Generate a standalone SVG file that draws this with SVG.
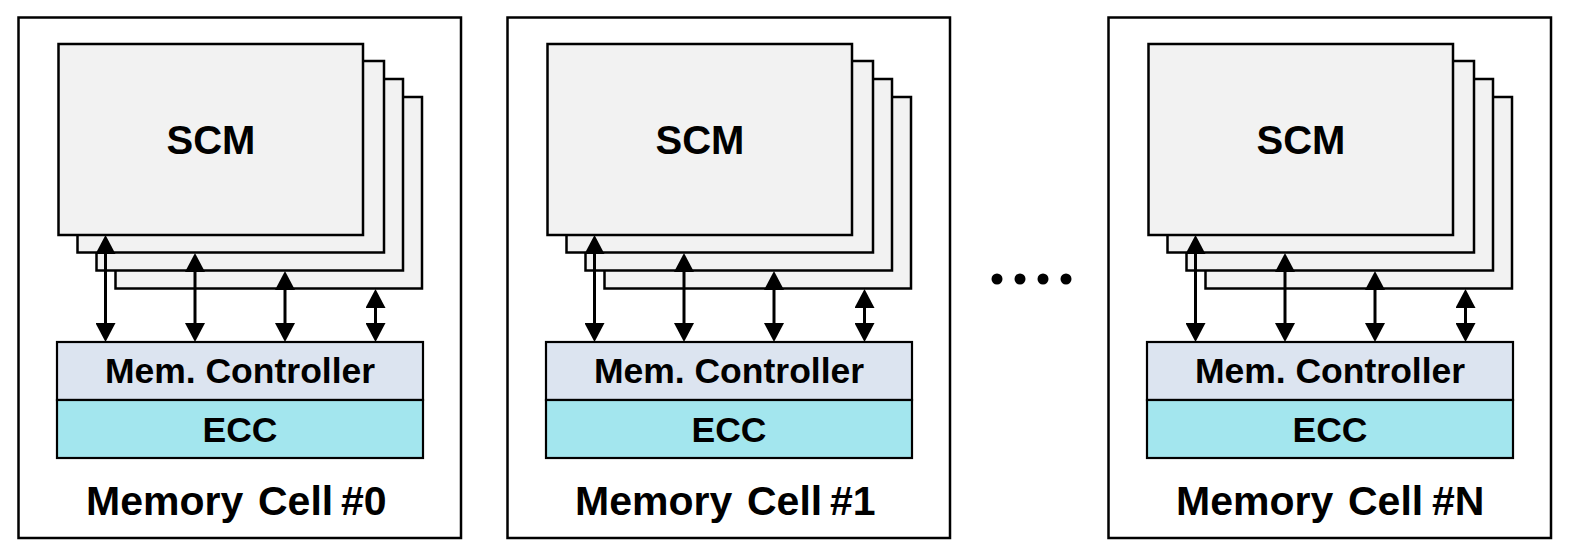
<svg xmlns="http://www.w3.org/2000/svg" width="1572" height="559" viewBox="0 0 1572 559">
  <style>
    .frame { fill: #ffffff; stroke: #000000; stroke-width: 2.5; }
    .scm { fill: #f2f2f2; stroke: #000000; stroke-width: 2.5; }
    .ctrl { fill: #dce4f0; stroke: #000000; stroke-width: 2.2; }
    .ecc { fill: #a3e6ee; stroke: #000000; stroke-width: 2.2; }
    .lbl { font-family: "Liberation Sans", Arial, sans-serif; font-weight: bold; fill: #000000; }
    .link { stroke: #000000; stroke-width: 3; fill: none; marker-start: url(#head); marker-end: url(#head); }
    .dot { fill: #000000; }
  </style>
  <defs>
    <marker id="head" viewBox="0 0 19 20" refX="15" refY="10" markerWidth="19" markerHeight="20" markerUnits="userSpaceOnUse" orient="auto-start-reverse">
      <path d="M0,0 L19,10 L0,20 z" fill="#000000"/>
    </marker>
  </defs>

  <!-- Memory cell #0 -->
  <g id="cell0">
    <rect class="frame" x="18.5" y="17.5" width="442.5" height="520.5"/>
    <g id="cell0-scm">
      <rect class="scm" x="115.5" y="97" width="306.5" height="191.5"/>
      <rect class="scm" x="96.5" y="79" width="306.5" height="191.5"/>
      <rect class="scm" x="77.5" y="61" width="306.5" height="191.5"/>
      <rect class="scm" x="58.5" y="44" width="304.5" height="191"/>
      <text class="lbl" x="211" y="154" font-size="40" text-anchor="middle">SCM</text>
    </g>
    <g id="cell0-ctrl">
      <rect class="ctrl" x="57" y="342" width="366" height="58"/>
      <text class="lbl" x="240" y="383" font-size="35.5" text-anchor="middle">Mem. Controller</text>
    </g>
    <g id="cell0-ecc">
      <rect class="ecc" x="57" y="400" width="366" height="58"/>
      <text class="lbl" x="240" y="442" font-size="35.5" text-anchor="middle">ECC</text>
    </g>
    <text class="lbl" y="515" font-size="41"><tspan x="86">Memory</tspan><tspan x="258">Cell</tspan><tspan x="341">#0</tspan></text>
  </g>

  <!-- Memory cell #1 -->
  <g id="cell1" transform="translate(489,0)">
    <rect class="frame" x="18.5" y="17.5" width="442.5" height="520.5"/>
    <g id="cell1-scm">
      <rect class="scm" x="115.5" y="97" width="306.5" height="191.5"/>
      <rect class="scm" x="96.5" y="79" width="306.5" height="191.5"/>
      <rect class="scm" x="77.5" y="61" width="306.5" height="191.5"/>
      <rect class="scm" x="58.5" y="44" width="304.5" height="191"/>
      <text class="lbl" x="211" y="154" font-size="40" text-anchor="middle">SCM</text>
    </g>
    <g id="cell1-ctrl">
      <rect class="ctrl" x="57" y="342" width="366" height="58"/>
      <text class="lbl" x="240" y="383" font-size="35.5" text-anchor="middle">Mem. Controller</text>
    </g>
    <g id="cell1-ecc">
      <rect class="ecc" x="57" y="400" width="366" height="58"/>
      <text class="lbl" x="240" y="442" font-size="35.5" text-anchor="middle">ECC</text>
    </g>
    <text class="lbl" y="515" font-size="41"><tspan x="86">Memory</tspan><tspan x="258">Cell</tspan><tspan x="341">#1</tspan></text>
  </g>

  <!-- Ellipsis between cells -->
  <g id="ellipsis">
    <circle class="dot" cx="997" cy="279" r="5.5"/>
    <circle class="dot" cx="1020" cy="279" r="5.5"/>
    <circle class="dot" cx="1043" cy="279" r="5.5"/>
    <circle class="dot" cx="1066" cy="279" r="5.5"/>
  </g>

  <!-- Memory cell #N -->
  <g id="cellN" transform="translate(1090,0)">
    <rect class="frame" x="18.5" y="17.5" width="442.5" height="520.5"/>
    <g id="cellN-scm">
      <rect class="scm" x="115.5" y="97" width="306.5" height="191.5"/>
      <rect class="scm" x="96.5" y="79" width="306.5" height="191.5"/>
      <rect class="scm" x="77.5" y="61" width="306.5" height="191.5"/>
      <rect class="scm" x="58.5" y="44" width="304.5" height="191"/>
      <text class="lbl" x="211" y="154" font-size="40" text-anchor="middle">SCM</text>
    </g>
    <g id="cellN-ctrl">
      <rect class="ctrl" x="57" y="342" width="366" height="58"/>
      <text class="lbl" x="240" y="383" font-size="35.5" text-anchor="middle">Mem. Controller</text>
    </g>
    <g id="cellN-ecc">
      <rect class="ecc" x="57" y="400" width="366" height="58"/>
      <text class="lbl" x="240" y="442" font-size="35.5" text-anchor="middle">ECC</text>
    </g>
    <text class="lbl" y="515" font-size="41"><tspan x="86">Memory</tspan><tspan x="258">Cell</tspan><tspan x="342">#N</tspan></text>
  </g>

  <!-- Bidirectional links between each SCM layer and its controller -->
  <g id="connectors">
    <g transform="translate(0,0)">
      <line class="link" x1="105.5" y1="239" x2="105.5" y2="338"/>
      <line class="link" x1="195" y1="257" x2="195" y2="338"/>
      <line class="link" x1="285" y1="275" x2="285" y2="338"/>
      <line class="link" x1="375.5" y1="293" x2="375.5" y2="338"/>
    </g>
    <g transform="translate(489,0)">
      <line class="link" x1="105.5" y1="239" x2="105.5" y2="338"/>
      <line class="link" x1="195" y1="257" x2="195" y2="338"/>
      <line class="link" x1="285" y1="275" x2="285" y2="338"/>
      <line class="link" x1="375.5" y1="293" x2="375.5" y2="338"/>
    </g>
    <g transform="translate(1090,0)">
      <line class="link" x1="105.5" y1="239" x2="105.5" y2="338"/>
      <line class="link" x1="195" y1="257" x2="195" y2="338"/>
      <line class="link" x1="285" y1="275" x2="285" y2="338"/>
      <line class="link" x1="375.5" y1="293" x2="375.5" y2="338"/>
    </g>
  </g>
</svg>
